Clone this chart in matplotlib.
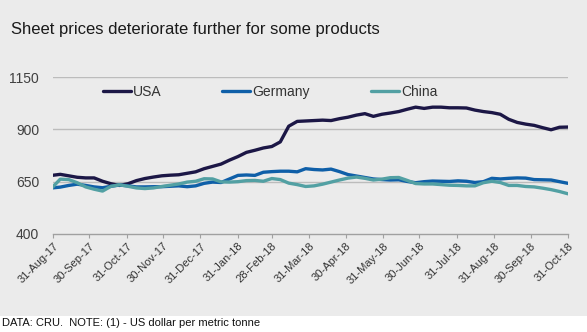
import matplotlib
matplotlib.use("Agg")
import matplotlib.pyplot as plt
import matplotlib.patches as mpatches
import pandas as pd

plt.rcParams['font.family'] = ['Liberation Sans', 'DejaVu Sans']

# weekly sheet prices, US$/t
weeks = pd.date_range(end='2018-10-31', periods=62, freq='7D')

usa = [680, 685, 678, 671, 668, 668, 652, 640, 632, 640,
       655, 665, 672, 678, 681, 683, 690, 697, 712, 723,
       734, 753, 770, 790, 800, 811, 818, 840, 915, 938,
       940, 942, 944, 942, 951, 958, 968, 975, 962, 972,
       978, 985, 996, 1006, 1000, 1006, 1006, 1003, 1003, 1002,
       992, 985, 980, 972, 948, 933, 925, 919, 908, 898,
       910, 911]

germany = [620, 624, 632, 638, 632, 625, 621, 628, 634, 630,
           625, 625, 626, 626, 628, 630, 626, 630, 642, 648,
           646, 663, 680, 682, 680, 695, 698, 700, 700, 697,
           712, 708, 706, 710, 698, 684, 677, 670, 663, 660,
           658, 659, 651, 645, 650, 653, 652, 651, 654, 652,
           646, 650, 666, 663, 666, 668, 667, 660, 659, 658,
           650, 642]

china = [620, 662, 660, 645, 625, 614, 605, 628, 635, 628,
         620, 617, 620, 627, 633, 639, 648, 652, 664, 663,
         649, 648, 650, 655, 656, 652, 665, 660, 643, 636,
         627, 630, 638, 648, 658, 667, 672, 666, 658, 662,
         669, 670, 656, 641, 639, 639, 636, 633, 632, 630,
         630, 645, 652, 646, 632, 632, 627, 625, 619, 612,
         603, 592]

tick_dates = ['2017-08-31', '2017-09-30', '2017-10-31', '2017-11-30',
              '2017-12-31', '2018-01-31', '2018-02-28', '2018-03-31',
              '2018-04-30', '2018-05-31', '2018-06-30', '2018-07-31',
              '2018-08-31', '2018-09-30', '2018-10-31']
y_ticks = [400, 650, 900, 1150]

bg = '#ebebeb'
fig = plt.figure(figsize=(5.87, 3.32), dpi=100)
fig.patch.set_facecolor('white')
fig.patches.append(mpatches.Rectangle((0, 0.048), 1, 0.952, transform=fig.transFigure,
                                      facecolor=bg, edgecolor='none', zorder=-5))

ax = fig.add_axes([0.0903, 0.2952, 0.8773, 0.4728])
ax.set_facecolor(bg)

line_kw = dict(lw=2.4, solid_joinstyle='round', solid_capstyle='round')
ax.plot(weeks, usa, color='#1c1746', label='USA', zorder=3, **line_kw)
ax.plot(weeks, germany, color='#0f5fa8', label='Germany', zorder=3, **line_kw)
ax.plot(weeks, china, color='#52a0a3', label='China', zorder=4, **line_kw)

ax.set_ylim(400, 1150)
ax.set_yticks(y_ticks)
ax.set_xlim(pd.Timestamp('2017-08-31'), pd.Timestamp('2018-10-31'))
ticks = pd.to_datetime(tick_dates)
ax.set_xticks(ticks)
ax.set_xticklabels([t.strftime('%d-%b-%y') for t in ticks], rotation=45,
                   ha='right', rotation_mode='anchor', fontsize=8, color='#333333')

for v in y_ticks[1:]:
    ax.axhline(v, color='#bcbcbc', lw=1.0, zorder=1)

for s in ['top', 'right', 'left']:
    ax.spines[s].set_visible(False)
ax.spines['bottom'].set_color('#a0a0a0')
ax.spines['bottom'].set_linewidth(1.0)
ax.tick_params(axis='y', length=0, pad=10, labelsize=10, labelcolor='#404040')
ax.tick_params(axis='x', length=3, color='#a0a0a0', pad=2)

fig.legend(loc='center', bbox_to_anchor=(0.46, 0.723), ncol=3, frameon=False,
           fontsize=10, handlelength=2.0, handletextpad=0.15, columnspacing=4.4,
           labelcolor='#333333')

fig.text(0.019, 0.912, 'Sheet prices deteriorate further for some products',
         fontsize=12, color='#1a1a1a', va='center', ha='left')
fig.text(0.004, 0.027, 'DATA: CRU.  NOTE: (1) - US dollar per metric tonne',
         fontsize=8, color='#111111', va='center', ha='left')

fig.savefig('out.png', dpi=100, facecolor=fig.get_facecolor())
